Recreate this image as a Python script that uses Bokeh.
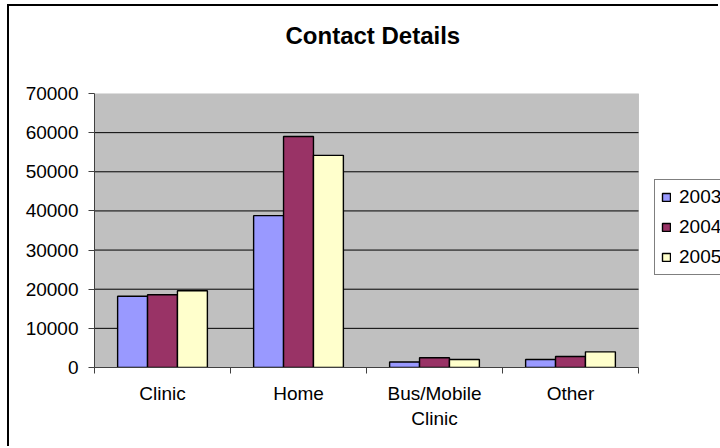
import numpy as np
from bokeh.plotting import figure
from bokeh.models import (ColumnDataSource, Range1d, FixedTicker, Legend, LegendItem,
                          BoxAnnotation, Title)
from bokeh.transform import dodge
from bokeh.embed import file_html
from bokeh.resources import INLINE

categories = ["Clinic", "Home", "Bus/Mobile\nClinic", "Other"]
years = ["2003", "2004", "2005"]
v2003 = [18200, 38800, 1400, 2050]
v2004 = [18600, 59000, 2500, 2800]
v2005 = [19600, 54200, 2050, 4000]
colors = ["#9999FF", "#993366", "#FFFFCC"]
y_ticks = [0, 10000, 20000, 30000, 40000, 50000, 60000, 70000]

FONT = "Liberation Sans"
N = len(categories)
YMAX = y_ticks[-1]

# plot area is 544 px wide; the frame extends to the right edge (626 px) so the legend can sit beside it
x_end = N * 626 / 544

xi = list(np.arange(N) + 0.5)
src = ColumnDataSource(dict(x=xi, v2003=v2003, v2004=v2004, v2005=v2005))

p = figure(width=711, height=442, output_backend="svg", toolbar_location=None,
           x_range=Range1d(0, x_end), y_range=Range1d(0, YMAX),
           min_border_left=85, min_border_right=0, min_border_top=87, min_border_bottom=81)
p.styles = {"border-left": "2px solid #000000", "border-top": "2px solid #000000",
            "margin-left": "7px", "margin-top": "4px"}

p.background_fill_color = "white"
p.border_fill_color = "white"
p.outline_line_color = None

# grey plot area
p.add_layout(BoxAnnotation(left=0, right=N, bottom=0, top=YMAX, fill_color="#C0C0C0",
                           fill_alpha=1, line_color="#808080", line_width=1, level="image"))

# horizontal gridlines limited to the plot area
gl = y_ticks[1:-1]
p.segment(x0=[0] * len(gl), x1=[N] * len(gl), y0=gl, y1=gl,
          line_color="black", line_width=1)

renderers = []
for col, off, c in zip(["v2003", "v2004", "v2005"], [-0.22, 0.0, 0.22], colors):
    r = p.vbar(x=dodge("x", off, range=p.x_range), top=col, width=0.22, bottom=0,
               source=src, fill_color=c, line_color="black", line_width=1.4)
    renderers.append(r)

# spacer between title and plot area
p.add_layout(Title(text=" ", text_font=FONT, text_font_size="24px", standoff=3), "above")

# Title
p.title.text = "Contact Details"
p.title.text_font = FONT
p.title.text_font_size = "24px"
p.title.text_font_style = "bold"
p.title.text_color = "black"
p.title.align = "left"
p.title.offset = 191
p.title.standoff = 26

# Y axis
p.yaxis.ticker = FixedTicker(ticks=y_ticks)
p.yaxis.major_label_text_font = FONT
p.yaxis.major_label_text_font_size = "19px"
p.yaxis.major_label_text_color = "black"
p.yaxis.major_tick_out = 6
p.yaxis.major_tick_in = 0
p.yaxis.minor_tick_line_color = None
p.yaxis.major_label_standoff = 10
p.yaxis.axis_line_color = "#404040"
p.yaxis.major_tick_line_color = "#404040"

# X axis: labels at category centres, ticks at category boundaries
p.xaxis.ticker = FixedTicker(ticks=xi, minor_ticks=list(range(N + 1)))
p.xaxis.bounds = (0, N)
p.xaxis.major_label_overrides = {float(x): c for x, c in zip(xi, categories)}
p.xaxis.major_label_text_font = FONT
p.xaxis.major_label_text_font_size = "19px"
p.xaxis.major_label_text_color = "black"
p.xaxis.major_tick_line_color = None
p.xaxis.minor_tick_out = 6
p.xaxis.minor_tick_in = 0
p.xaxis.minor_tick_line_color = "#404040"
p.xaxis.axis_line_color = "#404040"
p.xaxis.major_label_standoff = 9

p.xgrid.grid_line_color = None
p.ygrid.grid_line_color = None

legend = Legend(items=[LegendItem(label=y, renderers=[r]) for y, r in zip(years, renderers)],
                location=(560, 92), orientation="vertical")
legend.label_text_font = FONT
legend.label_text_font_size = "19px"
legend.label_text_color = "black"
legend.glyph_width = 10
legend.glyph_height = 10
legend.label_height = 18
legend.spacing = 8
legend.padding = 6
legend.margin = 0
legend.label_standoff = 8
legend.border_line_color = "black"
legend.border_line_width = 1
legend.background_fill_color = "white"
legend.background_fill_alpha = 1
p.add_layout(legend, "center")

open("out.html", "w").write(file_html(p, INLINE))
